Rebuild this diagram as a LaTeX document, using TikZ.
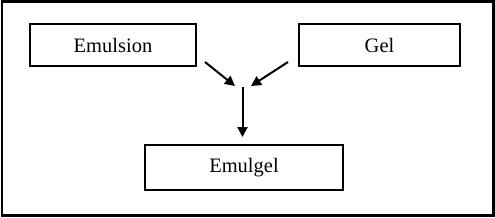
\documentclass[tikz,border=0pt]{standalone}
\usepackage{fontspec}
\setmainfont{Liberation Serif}
\usetikzlibrary{arrows.meta}
\begin{document}
\begin{tikzpicture}[x=1pt,y=-1pt,
  box/.style={draw, line width=1.2pt, minimum height=42pt, inner sep=0pt, font=\fontsize{20.5}{24}\selectfont},
  arr/.style={line width=2pt, -{Triangle[length=10pt,width=10pt]}}]
\useasboundingbox (0,0) rectangle (495,217);
\draw[line width=2.5pt] (2,1.5) rectangle (493.5,215.5);
\node[box, minimum width=166pt] (emu) at (113,45) {Emulsion};
\node[box, minimum width=161pt] (gel) at (379.5,45) {Gel};
\node[box, minimum width=198pt, minimum height=45pt] (emg) at (244,167.5) {Emulgel};
\coordinate (a1) at (205,62);
\coordinate (a2) at (235,86);
\coordinate (b1) at (288,62);
\coordinate (b2) at (251,86);
\coordinate (c1) at (242.5,87);
\coordinate (c2) at (242.5,137);
\draw[arr] (a1) -- (a2);
\draw[arr] (b1) -- (b2);
\draw[arr] (c1) -- (c2);
\end{tikzpicture}
\end{document}
